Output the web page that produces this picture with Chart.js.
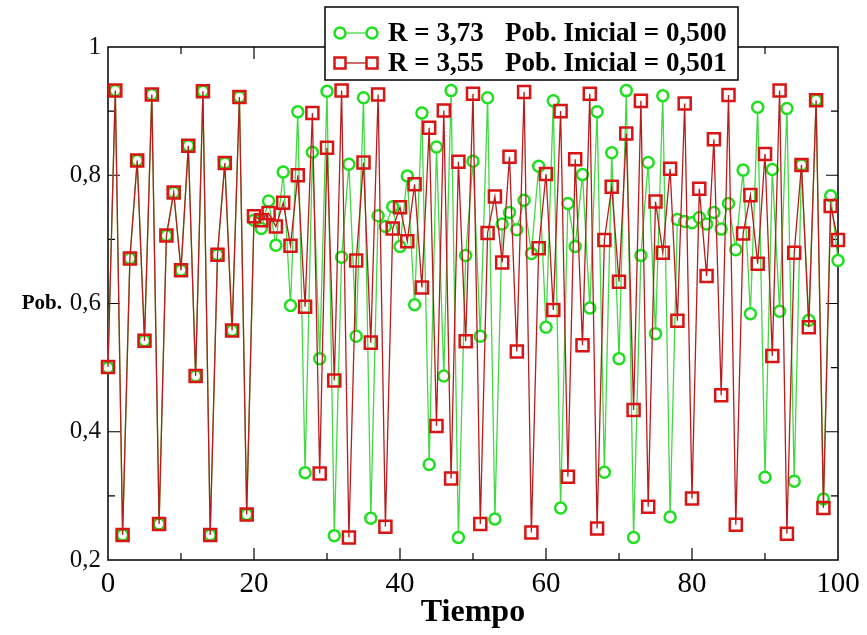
<!DOCTYPE html>
<html>
<head>
<meta charset="utf-8">
<script src="https://cdn.jsdelivr.net/npm/chart.js@4.4.1/dist/chart.umd.min.js"></script>
<style>
  html, body { margin: 0; padding: 0; background: #fff; }
  #wrap { width: 867px; height: 635px; }
</style>
</head>
<body>
<div id="wrap"><canvas id="grafico" width="867" height="635"></canvas></div>
<script>
// pasos de tiempo 0..100
const tiempo = Array.from({ length: 101 }, (_, i) => i);

// R = 3,73, población inicial 0,500
const pobA = [
  0.500, 0.932, 0.239, 0.670, 0.823, 0.542, 0.926, 0.256, 0.706, 0.773,
  0.652, 0.846, 0.487, 0.931, 0.239, 0.676, 0.819, 0.558, 0.922, 0.271,
  0.730, 0.717, 0.760, 0.691, 0.805, 0.597, 0.899, 0.336, 0.836, 0.514,
  0.931, 0.238, 0.672, 0.817, 0.549, 0.921, 0.265, 0.737, 0.720, 0.751,
  0.689, 0.799, 0.598, 0.897, 0.349, 0.844, 0.487, 0.932, 0.235, 0.675,
  0.822, 0.549, 0.921, 0.264, 0.724, 0.742, 0.715, 0.761, 0.678, 0.814,
  0.563, 0.916, 0.281, 0.756, 0.689, 0.801, 0.593, 0.899, 0.337, 0.835,
  0.514, 0.932, 0.235, 0.675, 0.820, 0.553, 0.924, 0.267, 0.731, 0.728,
  0.726, 0.734, 0.724, 0.742, 0.716, 0.756, 0.684, 0.808, 0.584, 0.906,
  0.329, 0.809, 0.588, 0.904, 0.323, 0.816, 0.574, 0.917, 0.295, 0.768,
  0.667
];

// R = 3,55, población inicial 0,501
const pobB = [
  0.501, 0.932, 0.239, 0.670, 0.823, 0.542, 0.926, 0.256, 0.706, 0.773,
  0.652, 0.846, 0.487, 0.931, 0.239, 0.676, 0.819, 0.558, 0.922, 0.271,
  0.736, 0.730, 0.741, 0.720, 0.757, 0.690, 0.800, 0.595, 0.897, 0.335,
  0.843, 0.480, 0.932, 0.235, 0.667, 0.820, 0.539, 0.926, 0.252, 0.717,
  0.750, 0.697, 0.786, 0.625, 0.874, 0.409, 0.901, 0.327, 0.821, 0.541,
  0.927, 0.256, 0.710, 0.767, 0.664, 0.829, 0.525, 0.930, 0.243, 0.686,
  0.802, 0.590, 0.900, 0.330, 0.825, 0.535, 0.927, 0.249, 0.699, 0.782,
  0.634, 0.865, 0.434, 0.916, 0.283, 0.759, 0.679, 0.810, 0.573, 0.912,
  0.296, 0.779, 0.643, 0.856, 0.457, 0.925, 0.255, 0.709, 0.769, 0.662,
  0.833, 0.518, 0.932, 0.241, 0.679, 0.816, 0.563, 0.917, 0.281, 0.752,
  0.699
];

const ticksX = [0, 20, 40, 60, 80, 100];
const ticksY = [0.2, 0.4, 0.6, 0.8, 1];
const leyenda = [
  { r: 'R = 3,73', pob: 'Pob. Inicial = 0,500' },
  { r: 'R = 3,55', pob: 'Pob. Inicial = 0,501' }
];

const VERDE = '#1ee01e';
const VERDE_LINEA = '#44d844';
const ROJO = '#d81414';
const ROJO_LINEA = '#b81c1c';
const SERIF = '"Liberation Serif", "DejaVu Serif", serif';

function coma(v) {
  return v === 1 ? '1' : v.toFixed(1).replace('.', ',');
}

// marco con marcas hacia dentro, etiqueta "Pob." y leyenda en recuadro
const marco = {
  id: 'marco',
  beforeDatasetsDraw(chart) {
    const { ctx, chartArea: a, scales: { x, y } } = chart;
    ctx.save();
    ctx.strokeStyle = '#000';
    ctx.lineWidth = 1.5;
    ctx.strokeRect(a.left, a.top, a.right - a.left, a.bottom - a.top);
    ctx.lineWidth = 1.2;
    ctx.beginPath();
    for (let k = 1; k < 10; k++) {
      const px = x.getPixelForValue(k * 10);
      const len = k % 2 ? 7 : 12;
      ctx.moveTo(px, a.bottom); ctx.lineTo(px, a.bottom - len);
      ctx.moveTo(px, a.top); ctx.lineTo(px, a.top + len);
    }
    for (let k = 3; k < 10; k++) {
      const py = y.getPixelForValue(k / 10);
      const len = k % 2 ? 7 : 12;
      ctx.moveTo(a.left, py); ctx.lineTo(a.left + len, py);
      ctx.moveTo(a.right, py); ctx.lineTo(a.right - len, py);
    }
    ctx.stroke();

    ctx.fillStyle = '#000';
    ctx.font = 'bold 21px ' + SERIF;
    ctx.textAlign = 'right';
    ctx.textBaseline = 'middle';
    ctx.fillText('Pob.', 62, y.getPixelForValue(0.6));
    ctx.restore();
  },
  afterDraw(chart) {
    const { ctx } = chart;
    ctx.save();
    const bx = 325, by = 7, bw = 413, bh = 73;
    ctx.fillStyle = '#fff';
    ctx.fillRect(bx, by, bw, bh);
    ctx.strokeStyle = '#000';
    ctx.lineWidth = 1.5;
    ctx.strokeRect(bx, by, bw, bh);

    leyenda.forEach((item, i) => {
      const cy = 33 + i * 30;
      const color = i === 0 ? VERDE : ROJO;
      ctx.strokeStyle = i === 0 ? VERDE_LINEA : ROJO_LINEA;
      ctx.lineWidth = 1.3;
      ctx.beginPath();
      ctx.moveTo(340, cy); ctx.lineTo(372, cy);
      ctx.stroke();
      ctx.strokeStyle = color;
      ctx.lineWidth = 2.5;
      ctx.fillStyle = '#fff';
      [340, 372].forEach(px => {
        ctx.beginPath();
        if (i === 0) ctx.arc(px, cy, 5.5, 0, Math.PI * 2);
        else ctx.rect(px - 5.5, cy - 5.5, 11, 11);
        ctx.fill();
        ctx.stroke();
      });
      ctx.fillStyle = '#000';
      ctx.font = 'bold 27px ' + SERIF;
      ctx.textAlign = 'left';
      ctx.textBaseline = 'middle';
      ctx.fillText(item.r, 388, cy + 1);
      ctx.fillText(item.pob, 505, cy + 1);
    });
    ctx.restore();
  }
};

new Chart(document.getElementById('grafico'), {
  type: 'line',
  data: {
    datasets: [
      {
        label: leyenda[0].r,
        data: tiempo.map((t, i) => ({ x: t, y: pobA[i] })),
        borderColor: VERDE_LINEA,
        borderWidth: 1.3,
        pointStyle: 'circle',
        pointRadius: 5.5,
        pointBorderWidth: 2.5,
        pointBorderColor: VERDE,
        pointBackgroundColor: '#fff',
        tension: 0,
        clip: false,
        order: 2
      },
      {
        label: leyenda[1].r,
        data: tiempo.map((t, i) => ({ x: t, y: pobB[i] })),
        borderColor: ROJO_LINEA,
        borderWidth: 1.3,
        pointStyle: 'rect',
        pointRadius: 8.5,
        pointBorderWidth: 2.5,
        pointBorderColor: ROJO,
        pointBackgroundColor: 'rgba(255,255,255,0)',
        tension: 0,
        clip: false,
        order: 1
      }
    ]
  },
  options: {
    responsive: false,
    animation: false,
    devicePixelRatio: 1,
    layout: { padding: { top: 47, right: 29, left: 0, bottom: 0 } },
    plugins: {
      legend: { display: false },
      tooltip: { enabled: false }
    },
    scales: {
      x: {
        type: 'linear',
        min: 0,
        max: 100,
        afterFit: s => { s.height = 75; },
        afterBuildTicks: s => { s.ticks = ticksX.map(v => ({ value: v })); },
        grid: { display: false, drawTicks: false },
        border: { display: false },
        ticks: {
          padding: 7,
          color: '#000',
          font: { family: SERIF, size: 29 },
          maxRotation: 0
        },
        title: {
          display: true,
          text: 'Tiempo',
          color: '#000',
          font: { family: SERIF, size: 32, weight: 'bold' },
          padding: { top: 0, bottom: 3 }
        }
      },
      y: {
        min: 0.2,
        max: 1,
        afterFit: s => { s.width = 108; },
        afterBuildTicks: s => { s.ticks = ticksY.map(v => ({ value: v })); },
        grid: { display: false, drawTicks: false },
        border: { display: false },
        ticks: {
          padding: 7,
          color: '#111',
          font: { family: SERIF, size: 25 },
          callback: v => coma(v)
        }
      }
    }
  },
  plugins: [marco]
});
</script>
</body>
</html>
